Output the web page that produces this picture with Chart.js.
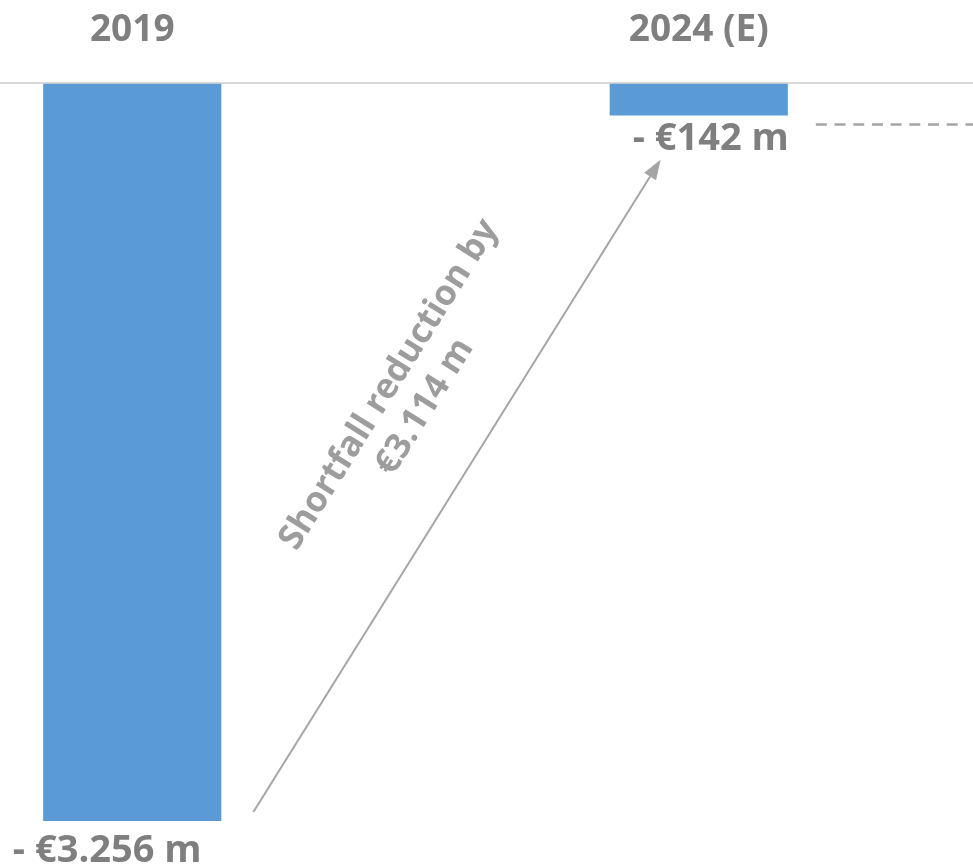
<!DOCTYPE html>
<html>
<head>
<meta charset="utf-8">
<title>Shortfall</title>
<script src="https://cdn.jsdelivr.net/npm/chart.js@4.4.1/dist/chart.umd.min.js"></script>
<style>
    html, body { margin: 0; padding: 0; background: #fff; width: 973px; height: 865px; overflow: hidden; }
    /* the plot is wider than the window, the third column falls outside */
    #wrap { position: absolute; left: -151px; top: 0; width: 1133px; height: 865px; }
</style>
</head>
<body>
<div id="wrap"><canvas id="grafico"></canvas></div>
<script>
// Data
const categorias = ['2019', '2024 (E)'];
const deficit = [-3256, -142];

const CINZA = '#7f7f7f';
const CINZA_CLARO = '#a5a5a5';
const CINZA_TEXTO = '#9d9d9d';
const AZUL = '#5b9bd5';

// "- €3.256 m" style
function formatarMilhoes(v) {
    return '€' + Math.abs(v).toLocaleString('de-DE') + ' m';
}

const reducao = deficit[1] - deficit[0];

// Labels under bars, arrow, dashed line and rotated text
const anotacoes = {
    id: 'anotacoes',
    afterDatasetsDraw(chart, args, opts) {
        const ctx = chart.ctx;
        const bars = chart.getDatasetMeta(0).data;
        const b0 = bars[0], b1 = bars[1];

        ctx.save();

        // value labels
        ctx.fillStyle = CINZA;
        ctx.font = 'bold 38px "Open Sans"';
        ctx.textAlign = 'center';
        ctx.textBaseline = 'alphabetic';
        bars.forEach((b, i) => {
            ctx.fillText('- ' + formatarMilhoes(deficit[i]), b.x + opts.dx[i], b.y + opts.dy[i]);
        });

        // dashed line to the right
        ctx.strokeStyle = CINZA_CLARO;
        ctx.lineWidth = 2.5;
        ctx.setLineDash([11, 7.7]);
        ctx.beginPath();
        ctx.moveTo(b1.x + b1.width / 2 + 28, b1.y + 9);
        ctx.lineTo(chart.width, b1.y + 9);
        ctx.stroke();
        ctx.setLineDash([]);

        // arrow
        const x0 = b0.x + b0.width / 2 + 32, y0 = b0.y - 9;
        const x1 = b1.x - b1.width / 2 + 51, y1 = b1.y + 44;
        const ang = Math.atan2(y1 - y0, x1 - x0);
        const cab = 20, larg = 7;
        const xb = x1 - cab * Math.cos(ang), yb = y1 - cab * Math.sin(ang);
        ctx.lineWidth = 2;
        ctx.beginPath();
        ctx.moveTo(x0, y0);
        ctx.lineTo(xb, yb);
        ctx.stroke();
        ctx.fillStyle = CINZA_CLARO;
        ctx.beginPath();
        ctx.moveTo(x1, y1);
        ctx.lineTo(xb + larg * Math.sin(ang), yb - larg * Math.cos(ang));
        ctx.lineTo(xb - larg * Math.sin(ang), yb + larg * Math.cos(ang));
        ctx.closePath();
        ctx.fill();

        // rotated text beside the arrow
        const cx = (x0 + x1) / 2 - 50, cy = (y0 + y1) / 2 - 90;
        ctx.translate(cx, cy);
        ctx.rotate(ang);
        ctx.fillStyle = CINZA_TEXTO;
        ctx.font = 'bold 35px "Open Sans"';
        ctx.textAlign = 'center';
        ctx.textBaseline = 'middle';
        ctx.fillText('Shortfall reduction by', 0, -21);
        ctx.fillText(formatarMilhoes(reducao), 0, 21);

        ctx.restore();
    }
};

new Chart(document.getElementById('grafico').getContext('2d'), {
    type: 'bar',
    data: {
        labels: categorias,
        datasets: [{
            data: deficit,
            backgroundColor: AZUL,
            borderWidth: 0,
            barPercentage: 0.3145,
            categoryPercentage: 1
        }]
    },
    options: {
        responsive: true,
        maintainAspectRatio: false,
        animation: false,
        layout: { padding: { top: -23, bottom: 44, left: 0, right: 0 } },
        plugins: {
            legend: { display: false },
            tooltip: { enabled: false },
            anotacoes: { dx: [-25, 12], dy: [41, 34] }
        },
        scales: {
            x: {
                position: 'top',
                grid: { display: false, drawTicks: false },
                border: { display: true, color: '#d9d9d9', width: 2 },
                ticks: {
                    color: CINZA,
                    padding: 31,
                    font: { family: 'Open Sans', size: 37, weight: 'bold' }
                }
            },
            y: {
                display: false,
                min: -3256,
                max: 0
            }
        }
    },
    plugins: [anotacoes]
});
</script>
</body>
</html>
